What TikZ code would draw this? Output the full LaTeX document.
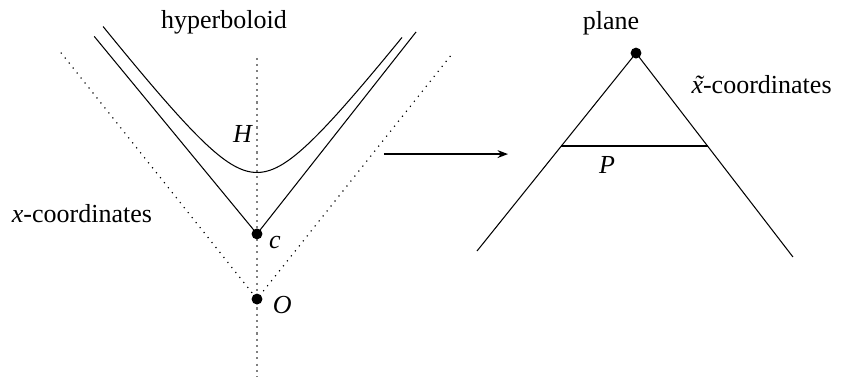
\documentclass[tikz,border=0pt]{standalone}
\usepackage{fontspec}
\setmainfont{Liberation Serif}
\usetikzlibrary{arrows.meta, positioning}
\newcommand{\xtil}{\textit{\setbox0\hbox{x}\rlap{\hbox to\wd0{\hss\kern0.08em\char"02DC\hss}}x}}

\begin{document}
\begin{tikzpicture}[
dot/.style={circle, fill, inner sep=0pt, minimum size=4.2pt},
lab/.style={font=\fontsize{10}{12}\selectfont, inner sep=0pt},
axis/.style={gray, line width=0.5pt, dash pattern=on 0.8pt off 1.6pt},
guide/.style={dotted, line width=0.45pt},
curve/.style={line width=0.4pt},
arr/.style={-{Stealth[length=4pt, width=3pt]}, line width=0.75pt}
]
\useasboundingbox (-3.473,-1.054) rectangle (7.892,4.041);

% left side: hyperboloid over the light cone
\coordinate (O) at (0,0);
\coordinate (c) at (0,0.88);
\coordinate (vtop) at (0,3.26);
\coordinate (vbot) at (0,-1.054);
\coordinate (dl) at (-2.65,3.33);
\coordinate (dr) at (2.65,3.33);
\coordinate (cl) at (-2.2,3.55);
\coordinate (cr) at (2.15,3.61);

\draw[axis] (vtop) -- (vbot);
\draw[guide] (dl) -- (O) -- (dr);
\draw[curve] (cl) -- (c) -- (cr);
\draw[curve, domain=-2.08:1.96, samples=80, smooth]
plot (\x, {0.88+sqrt(0.83*0.83+(1.287*\x)^2)});

\node[dot] (cdot) at (c) {};
\node[dot] (Odot) at (O) {};

\node[lab, anchor=base] (hyp) at (-0.446,3.662) {hyperboloid};
\node[lab, anchor=base] (H) at (-0.189,2.122) {\textit{H}};
\node[lab, anchor=base] (xco) at (-2.365,1.04) {\textit{x}-coordinates};
\node[lab, anchor=base] (clab) at (0.243,0.689) {\textit{c}};
\node[lab, anchor=base] (Olab) at (0.34,-0.19) {\textit{O}};

% map
\coordinate (as) at (1.716,1.959);
\coordinate (ae) at (3.392,1.959);
\draw[arr] (as) -- (ae);

% right side: the plane
\coordinate (apex) at (5.122,3.324);
\coordinate (bl) at (2.973,0.649);
\coordinate (br) at (7.243,0.568);
\coordinate (pl) at (4.113,2.068);
\coordinate (pr) at (6.088,2.068);

\draw[curve] (bl) -- (apex) -- (br);
\draw[curve] (pl) -- (pr);
\node[dot] (adot) at (apex) {};

\node[lab, anchor=base] (plane) at (4.784,3.649) {plane};
\node[lab, anchor=base west] (xtco) at (5.865,2.78) {\xtil-coordinates};
\node[lab, anchor=base] (P) at (4.73,1.703) {\textit{P}};
\end{tikzpicture}
\end{document}
